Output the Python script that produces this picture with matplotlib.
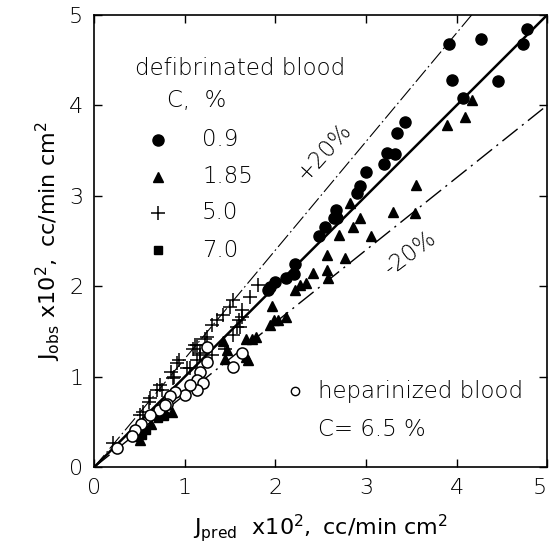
import matplotlib.pyplot as plt
import numpy as np

plt.rcParams['font.family'] = ['DejaVu Sans']
plt.rcParams['font.weight'] = 'light'
plt.rcParams['mathtext.default'] = 'regular'

# defibrinated blood, C = 0.9 %
circ_x = [3.92, 4.27, 4.78, 4.74, 3.95, 4.46, 4.07, 3.43, 3.34, 3.23, 3.32, 3.20, 3.00,
          2.93, 2.90, 2.67, 2.65, 2.55, 2.48, 2.22, 2.20, 2.12, 1.99, 1.94, 1.92, 2.68]
circ_y = [4.68, 4.73, 4.85, 4.68, 4.28, 4.27, 4.08, 3.82, 3.69, 3.47, 3.46, 3.35, 3.26,
          3.11, 3.03, 2.84, 2.76, 2.66, 2.56, 2.25, 2.14, 2.09, 2.05, 1.99, 1.96, 2.75]

# C = 1.85 %
tri_x = [4.17, 4.09, 3.89, 3.55, 3.30, 3.54, 2.82, 2.93, 2.86, 2.70, 3.06, 2.57, 2.77,
         2.42, 2.57, 2.58, 2.27, 2.34, 2.22, 1.96, 2.12, 2.03, 1.98, 1.94, 1.79, 1.74,
         1.68, 1.70, 1.68, 1.44, 1.42, 1.46, 0.86, 0.62, 0.50]
tri_y = [4.06, 3.87, 3.78, 3.12, 2.82, 2.81, 2.92, 2.75, 2.66, 2.57, 2.55, 2.35, 2.31,
         2.15, 2.18, 2.09, 2.01, 2.03, 1.96, 1.78, 1.66, 1.63, 1.63, 1.57, 1.44, 1.42,
         1.42, 1.18, 1.22, 1.20, 1.39, 1.29, 0.61, 0.48, 0.30]

# C = 5.0 %
plus_x = [1.81, 1.72, 1.53, 1.50, 1.42, 1.35, 1.30, 1.63, 1.60, 1.61, 1.53, 1.44, 1.24,
          1.13, 1.09, 1.30, 1.17, 1.22, 1.11, 0.93, 0.91, 0.85, 0.87, 0.72, 0.69, 0.61,
          0.54, 0.50, 0.21, 1.02, 1.06, 1.13, 1.17, 1.63, 1.57, 0.88, 0.75, 0.60]
plus_y = [2.01, 1.88, 1.85, 1.77, 1.68, 1.63, 1.57, 1.74, 1.63, 1.55, 1.46, 1.31, 1.44,
          1.35, 1.31, 1.24, 1.26, 1.42, 1.35, 1.18, 1.15, 1.05, 0.98, 0.91, 0.85, 0.76,
          0.61, 0.58, 0.26, 1.09, 1.09, 1.18, 1.24, 1.66, 1.55, 1.00, 0.85, 0.72]

# C = 7.0 %
sq_x = [0.77, 0.70, 0.57, 0.53, 0.45, 0.76]
sq_y = [0.56, 0.54, 0.41, 0.35, 0.33, 0.63]

# heparinized blood, C = 6.5 %
open_x = [1.63, 1.53, 1.24, 1.17, 1.13, 1.20, 1.13, 1.06, 1.00, 0.89, 0.83, 0.80, 0.71,
          0.61, 0.52, 0.45, 0.41, 0.25, 1.24, 0.78]
open_y = [1.26, 1.11, 1.16, 1.05, 0.96, 0.93, 0.85, 0.91, 0.80, 0.83, 0.78, 0.70, 0.63,
          0.58, 0.48, 0.41, 0.34, 0.21, 1.33, 0.69]

ticks = [0, 1, 2, 3, 4, 5]
legend_c = ['0.9', '1.85', '5.0', '7.0']

fig = plt.figure(figsize=(5.52, 5.57), dpi=100)
ax = fig.add_axes([0.171, 0.1616, 0.82, 0.8114])

# reference lines
xl = np.array([0, 5])
ax.plot(xl, xl, 'k-', lw=1.8)
ax.plot(xl, 1.2 * xl, color='k', lw=0.8, dashes=(14, 3, 1.5, 3))
ax.plot(xl, 0.8 * xl, color='k', lw=1.0, dashes=(14, 4, 1.5, 4))

ax.plot(circ_x, circ_y, 'ko', ms=8)
ax.plot(tri_x, tri_y, 'k^', ms=7.5)
ax.plot(plus_x, plus_y, 'k+', ms=10, mew=1.1)
ax.plot(sq_x, sq_y, 'ks', ms=5.5)
ax.plot(open_x, open_y, 'o', mfc='white', mec='k', ms=8, mew=1.1)

fs = 16.5
ax.text(0.45, 4.41, 'defibrinated blood', fontsize=fs, va='center')
ax.text(0.80, 4.06, 'C,  %', fontsize=fs, va='center')
markers = [dict(marker='o', ms=8), dict(marker='^', ms=7.5),
           dict(marker='+', ms=10, mew=1.1), dict(marker='s', ms=5.5)]
ly = [3.62, 3.21, 2.81, 2.40]
for lab, m, yy in zip(legend_c, markers, ly):
    ax.plot([0.70], [yy], color='k', ls='none', **m)
    ax.text(1.19, yy, lab, fontsize=fs, va='center')

ax.text(2.54, 3.49, '+20%', fontsize=fs, rotation=48, ha='center', va='center')
ax.text(3.49, 2.37, '-20%', fontsize=fs, rotation=37, ha='center', va='center')

ax.plot([2.22], [0.84], 'o', mfc='white', mec='k', ms=6, mew=1)
ax.text(2.47, 0.84, 'heparinized blood', fontsize=fs, va='center')
ax.text(2.47, 0.41, 'C= 6.5 %', fontsize=fs, va='center')

ax.set_xlim(0, 5)
ax.set_ylim(0, 5)
ax.set_xticks(ticks)
ax.set_yticks(ticks)
ax.tick_params(direction='in', top=True, right=True, length=6, width=1,
               labelsize=16, pad=8)
ax.get_xticklabels()[-1].set_horizontalalignment('right')
for s in ax.spines.values():
    s.set_linewidth(1.2)

ax.set_xlabel(r'$J_{pred}\ \ x10^2,\ cc/min\ cm^2$', fontsize=16, labelpad=10)
ax.set_ylabel(r'$J_{obs}\ x10^2,\ cc/min\ cm^2$', fontsize=16, labelpad=4)

fig.savefig('out.png', dpi=100)
